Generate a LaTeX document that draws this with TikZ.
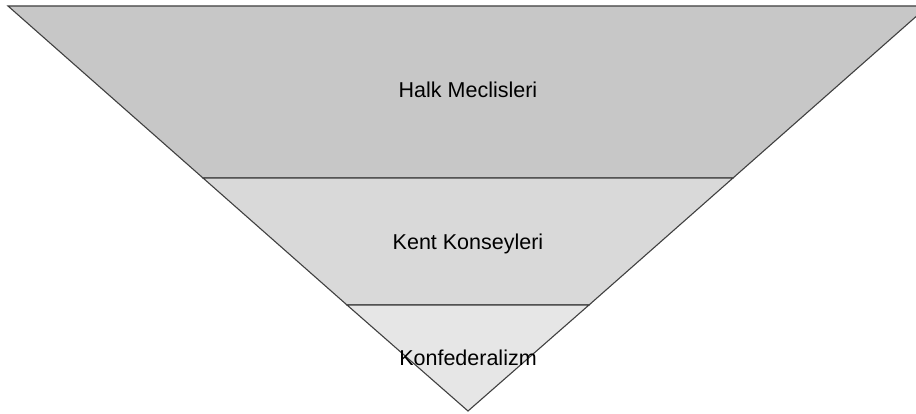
\documentclass[tikz,border=0pt]{standalone}
\usepackage{fontspec}
\setmainfont{Liberation Sans}
\definecolor{bandA}{RGB}{199,199,199}
\definecolor{bandB}{RGB}{217,217,217}
\definecolor{bandC}{RGB}{230,230,230}
\definecolor{edge}{RGB}{64,64,64}
\tikzset{
  band/.style={draw=edge, line width=1.1pt, line join=miter},
  lbl/.style={anchor=base, font=\fontsize{21.5}{24}\selectfont, text=black, inner sep=0pt}
}
\begin{document}
\begin{tikzpicture}[x=1pt,y=-1pt]
\clip (0,0) rectangle (916,414);
\fill[white] (0,0) rectangle (916,414);
\coordinate (TL) at (8,6);
\coordinate (TR) at (928,6);
\coordinate (AL) at (203,178);
\coordinate (AR) at (733,178);
\coordinate (BL) at (347,305);
\coordinate (BR) at (589,305);
\coordinate (P) at (468,411);
\filldraw[band, fill=bandA] (TL) -- (TR) -- (AR) -- (AL) -- cycle;
\filldraw[band, fill=bandB] (AL) -- (AR) -- (BR) -- (BL) -- cycle;
\filldraw[band, fill=bandC] (BL) -- (BR) -- (P) -- cycle;
\node[lbl] (halk) at (468,98) {Halk Meclisleri};
\node[lbl] (kent) at (468,249.5) {Kent Konseyleri};
\node[lbl] (konf) at (468,365) {Konfederalizm};
\end{tikzpicture}
\end{document}
